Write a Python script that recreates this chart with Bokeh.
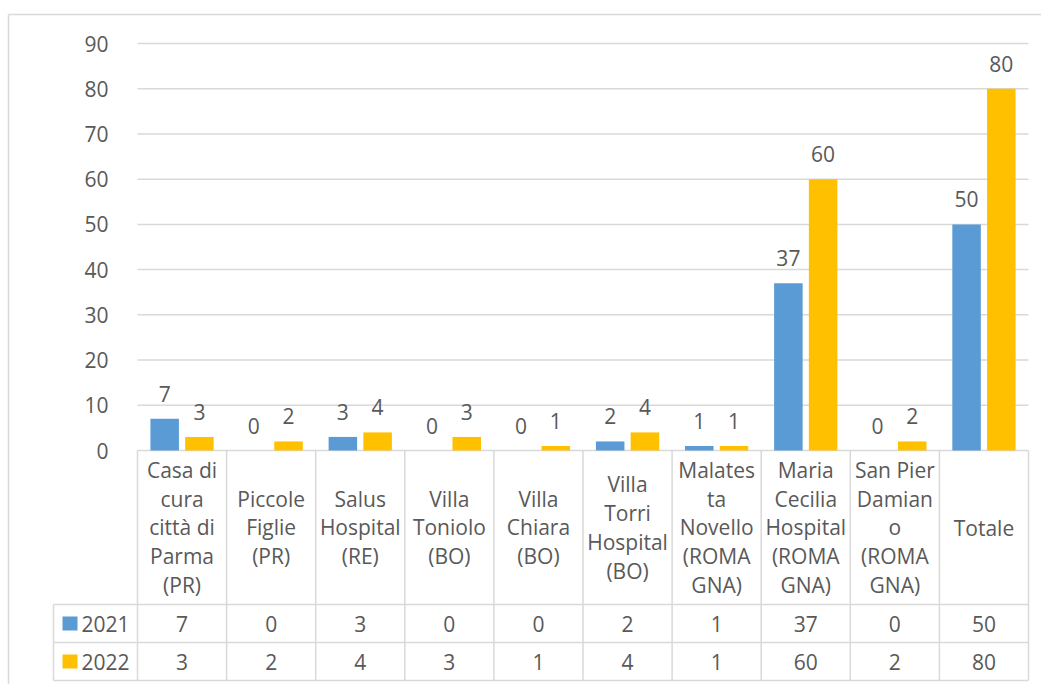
import numpy as np
from bokeh.plotting import figure
from bokeh.models import Range1d, FixedTicker
from bokeh.core.properties import value
from bokeh.embed import file_html
from bokeh.resources import INLINE

# ---------------- data ----------------
categories = [
    "Casa di\ncura\ncittà di\nParma\n(PR)",
    "Piccole\nFiglie\n(PR)",
    "Salus\nHospital\n(RE)",
    "Villa\nToniolo\n(BO)",
    "Villa\nChiara\n(BO)",
    "Villa\nTorri\nHospital\n(BO)",
    "Malates\nta\nNovello\n(ROMA\nGNA)",
    "Maria\nCecilia\nHospital\n(ROMA\nGNA)",
    "San Pier\nDamian\no\n(ROMA\nGNA)",
    "Totale",
]
series_names = ["2021", "2022"]
values_2021 = [7, 0, 3, 0, 0, 2, 1, 37, 0, 50]
values_2022 = [3, 2, 4, 3, 1, 4, 1, 60, 2, 80]
y_ticks = [0, 10, 20, 30, 40, 50, 60, 70, 80, 90]

# ---------------- style / layout ----------------
W, H = 1041, 684
FL, FR, FT = 137, 1028, 43   # plot-area edges in px
Y0PX = 450                   # pixel row of value 0
YMAX = 90
BLUE = "#5b9bd5"
YELLOW = "#ffc000"
GRID = "#d9d9d9"
TXT = "#595959"
FONT = "Open Sans"
FS = "21px"

n = len(categories)
ppx = (FR - FL) / n
ppy = (Y0PX - FT) / YMAX


def dx(px):
    return (px - FL) / ppx


def dy(py):
    return (Y0PX - py) / ppy


xs = np.arange(n) + 0.5
off = 0.195
bw = 0.32

p = figure(width=W, height=H, x_range=Range1d(dx(0), dx(W)), y_range=Range1d(dy(H), dy(0)),
           output_backend="svg", toolbar_location=None, title=None,
           min_border_left=0, min_border_right=0, min_border_top=0, min_border_bottom=0)
p.outline_line_color = None
p.background_fill_color = "white"
p.border_fill_color = "white"

p.xaxis.visible = False
p.xgrid.visible = False
p.ygrid.visible = False
tick = FixedTicker(ticks=y_ticks)
p.yaxis.ticker = tick
p.yaxis.fixed_location = 0
p.yaxis.bounds = (0, YMAX)
p.yaxis.axis_line_color = None
p.yaxis.major_tick_line_color = None
p.yaxis.minor_tick_line_color = None
p.yaxis.major_label_standoff = 23
p.yaxis.major_label_text_font = FONT
p.yaxis.major_label_text_font_size = FS
p.yaxis.major_label_text_color = TXT

# horizontal grid lines (value axis)
p.segment(x0=[0] * len(y_ticks), x1=[n] * len(y_ticks), y0=y_ticks, y1=y_ticks,
          line_color=GRID, line_width=1.5)

# bars
p.vbar(x=xs - off, top=values_2021, width=bw, bottom=0, fill_color=BLUE, line_color=None)
p.vbar(x=xs + off, top=values_2022, width=bw, bottom=0, fill_color=YELLOW, line_color=None)

# data labels
for vals, sgn in ((values_2021, -1), (values_2022, 1)):
    p.text(x=xs + sgn * off, y=vals, text=[str(v) for v in vals], text_align="center",
           text_baseline="alphabetic", y_offset=-25, text_font=value(FONT),
           text_font_size=FS, text_color=TXT)

# ---------------- data table ----------------
row_top, row_mid, row_bot = 604, 642, 680
leg_left = dx(53)
bounds = list(range(n + 1))
vx = bounds + [leg_left]
vy0 = [0] * (n + 1) + [dy(row_top)]
vy1 = [dy(row_bot)] * (n + 2)
p.segment(x0=vx, x1=vx, y0=vy0, y1=vy1, line_color=GRID, line_width=1.5)
hy = [dy(row_top), dy(row_mid), dy(row_bot)]
p.segment(x0=[leg_left] * 3, x1=[n] * 3, y0=hy, y1=hy, line_color=GRID, line_width=1.5)

p.text(x=xs, y=[dy((Y0PX + row_top) / 2)] * n, text=categories, text_align="center",
       text_baseline="middle", text_line_height=1.03, text_font=value(FONT),
       text_font_size=FS, text_color=TXT)
row_centers = [(row_top + row_mid) / 2, (row_mid + row_bot) / 2]
for vals, rc in zip((values_2021, values_2022), row_centers):
    p.text(x=xs, y=[dy(rc)] * n, text=[str(v) for v in vals], text_align="center",
           text_baseline="middle", text_font=value(FONT), text_font_size=FS, text_color=TXT)

# legend keys in the table
kc = [dy(c) for c in row_centers]
p.quad(left=[dx(62)] * 2, right=[dx(77)] * 2, top=[dy(c - 7) for c in row_centers],
       bottom=[dy(c + 7) for c in row_centers], fill_color=[BLUE, YELLOW], line_color=None)
p.text(x=[dx(81)] * 2, y=kc, text=series_names, text_align="left", text_baseline="middle",
       text_font=value(FONT), text_font_size=FS, text_color=TXT)

# outer chart border (left and top edges visible)
p.segment(x0=[dx(8), dx(8)], x1=[dx(8), dx(W + 5)], y0=[dy(14), dy(14)], y1=[dy(H + 5), dy(14)],
          line_color=GRID, line_width=1.5)

open("out.html", "w").write(file_html(p, INLINE))
